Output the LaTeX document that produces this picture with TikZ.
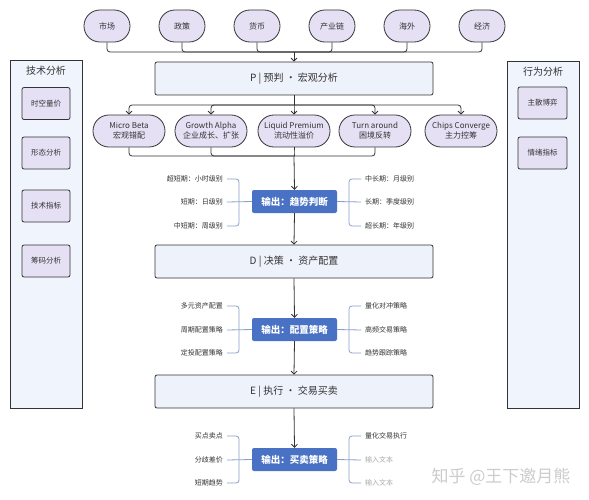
\documentclass[tikz,border=0pt]{standalone}
\usepackage{fontspec}
\setmainfont{Noto Sans CJK SC}
\usetikzlibrary{arrows.meta}
\definecolor{lav}{HTML}{E6E0F5}
\definecolor{panelc}{HTML}{F0F4FC}
\definecolor{mainf}{HTML}{EEF2FB}
\definecolor{outb}{HTML}{4A72C4}
\definecolor{brkc}{HTML}{8A9FCB}
\definecolor{ink}{HTML}{333333}
\definecolor{faint}{HTML}{AAAAAA}
\begin{document}
\begin{tikzpicture}[x=1pt,y=-1pt,
  oval/.style={draw=ink, fill=lav, rounded corners=15.9pt, minimum width=46pt, minimum height=32pt, line width=0.8pt, font=\fontsize{8}{10}\selectfont, text=ink, inner sep=0pt, align=center},
  macro/.style={oval, minimum width=72pt},
  mainbox/.style={draw=ink, fill=mainf, rounded corners=2pt, line width=0.8pt, minimum width=278pt, minimum height=33pt, font=\fontsize{10}{12}\selectfont, text=ink},
  outbox/.style={fill=outb, rounded corners=2pt, minimum width=85pt, minimum height=23pt, inner sep=0pt, text=white, font=\bfseries\fontsize{9.5}{11}\selectfont},
  lbl/.style={font=\fontsize{7}{8}\selectfont, text=ink, inner sep=1pt},
  lblf/.style={lbl, text=faint},
  panelbox/.style={draw=ink, fill=panelc, line width=0.8pt, inner sep=0pt},
  ptitle/.style={font=\fontsize{10}{12}\selectfont, text=ink},
  smallbox/.style={draw=ink, fill=lav, rounded corners=2pt, line width=0.8pt, minimum width=48pt, minimum height=32pt, inner sep=0pt, font=\fontsize{7.5}{9}\selectfont, text=ink},
  conn/.style={draw=ink, line width=0.8pt, rounded corners=3pt},
  arr/.style={conn, -{Straight Barb[length=3pt,width=6pt]}},
  brk/.style={draw=brkc, line width=0.8pt, rounded corners=3pt}
]
\useasboundingbox (0,0) rectangle (589,500);
\fill[white] (0,0) rectangle (589,500);

% side panels
\node[panelbox, minimum width=72pt, minimum height=348pt] (lp) at (46,234) {};
\node[ptitle] (lpt) at (46,71) {技术分析};
\node[smallbox] (t1) at (46,103.5) {时空量价};
\node[smallbox] (t2) at (46,153) {形态分析};
\node[smallbox] (t3) at (46,206) {技术指标};
\node[smallbox] (t4) at (46,261) {筹码分析};

\node[panelbox, minimum width=72pt, minimum height=347pt] (rp) at (543,234.5) {};
\node[ptitle] (rpt) at (543,72) {行为分析};
\node[smallbox, minimum width=49pt] (b1) at (542.5,103) {主散博弈};
\node[smallbox, minimum width=49pt] (b2) at (542.5,153) {情绪指标};

% top ovals
\node[oval] (o1) at (107,26) {市场};
\node[oval] (o2) at (182,26) {政策};
\node[oval] (o3) at (257,26) {货币};
\node[oval] (o4) at (332,26) {产业链};
\node[oval] (o5) at (407,26) {海外};
\node[oval] (o6) at (482,26) {经济};

% main boxes
\node[mainbox] (P) at (294,78.5) {P | 预判 • 宏观分析};
\node[mainbox] (D) at (294,261.5) {D | 决策 • 资产配置};
\node[mainbox] (E) at (294,391.5) {E | 执行 • 交易买卖};

% macro nodes
\node[macro] (m1) at (129,131) {Micro Beta\\宏观错配};
\node[macro] (m2) at (211,131) {Growth Alpha\\企业成长、扩张};
\node[macro] (m3) at (294,131) {Liquid Premium\\流动性溢价};
\node[macro] (m4) at (375,131) {Turn around\\困境反转};
\node[macro] (m5) at (461,131) {Chips Converge\\主力控筹};

% outputs
\node[outbox] (q1) at (294.5,201.5) {输出：趋势判断};
\node[outbox] (q2) at (294.5,329.5) {输出：配置策略};
\node[outbox] (q3) at (294.5,459.5) {输出：买卖策略};

% labels group 1
\node[lbl, anchor=east] (a1) at (224,179) {超短期：小时级别};
\node[lbl, anchor=east] (a2) at (224,202) {短期：日级别};
\node[lbl, anchor=east] (a3) at (224,226) {中短期：周级别};
\node[lbl, anchor=west] (c1) at (364,179) {中长期：月级别};
\node[lbl, anchor=west] (c2) at (364,202) {长期：季度级别};
\node[lbl, anchor=west] (c3) at (364,226) {超长期：年级别};
% labels group 2
\node[lbl, anchor=east] (d1) at (224,306) {多元资产配置};
\node[lbl, anchor=east] (d2) at (224,330) {周期配置策略};
\node[lbl, anchor=east] (d3) at (224,353) {定投配置策略};
\node[lbl, anchor=west] (e1) at (364,306) {量化对冲策略};
\node[lbl, anchor=west] (e2) at (364,330) {高频交易策略};
\node[lbl, anchor=west] (e3) at (364,353) {趋势跟踪策略};
% labels group 3
\node[lbl, anchor=east] (f1) at (224,436) {买点卖点};
\node[lbl, anchor=east] (f2) at (224,460) {分歧差价};
\node[lbl, anchor=east] (f3) at (224,483) {短期趋势};
\node[lbl, anchor=west] (g1) at (364,436) {量化交易执行};
\node[lblf, anchor=west] (g2) at (364,460) {输入文本};
\node[lblf, anchor=west] (g3) at (364,483) {输入文本};

% watermark
\node[font=\fontsize{17}{19}\selectfont, text=black!20] (wm) at (501,477) {知乎 @王下邀月熊};

% bus coordinates
\coordinate (bt) at (294,52);
\coordinate (bm) at (294,105);
\coordinate (bb) at (294,156);

\foreach \o in {o1,o2,o3,o4,o5,o6} \draw[conn] (\o.south) |- (bt);
\draw[arr] (bt) -- (P.north);
\draw[conn] (P.south) -- (bm);
\foreach \m in {m1,m2,m3,m4,m5} \draw[arr] (bm) -| (\m.north);
\foreach \m in {m1,m2,m3,m4} \draw[conn] (\m.south) |- (bb);
\draw[arr] (bb) -- (q1.north);
\draw[arr] (q1.south) -- (D.north);
\draw[arr] (D.south) -- (q2.north);
\draw[arr] (q2.south) -- (E.north);
\draw[arr] (E.south) -- (q3.north);

% brackets
\coordinate (kl1) at (239,202);
\coordinate (kr1) at (349,202);
\coordinate (kl2) at (239,330);
\coordinate (kr2) at (349,330);
\coordinate (kl3) at (239,460);
\coordinate (kr3) at (349,460);

\draw[brk] ([xshift=3pt]a1.east) -| (kl1) |- ([xshift=3pt]a3.east);
\draw[brk] ([xshift=3pt]a2.east) -- (q1.west);
\draw[brk] ([xshift=-3pt]c1.west) -| (kr1) |- ([xshift=-3pt]c3.west);
\draw[brk] (q1.east) -- ([xshift=-3pt]c2.west);

\draw[brk] ([xshift=3pt]d1.east) -| (kl2) |- ([xshift=3pt]d3.east);
\draw[brk] ([xshift=3pt]d2.east) -- (q2.west);
\draw[brk] ([xshift=-3pt]e1.west) -| (kr2) |- ([xshift=-3pt]e3.west);
\draw[brk] (q2.east) -- ([xshift=-3pt]e2.west);

\draw[brk] ([xshift=3pt]f1.east) -| (kl3) |- ([xshift=3pt]f3.east);
\draw[brk] ([xshift=3pt]f2.east) -- (q3.west);
\draw[brk] ([xshift=-3pt]g1.west) -| (kr3) |- ([xshift=-3pt]g3.west);
\draw[brk] (q3.east) -- ([xshift=-3pt]g2.west);
\end{tikzpicture}
\end{document}
